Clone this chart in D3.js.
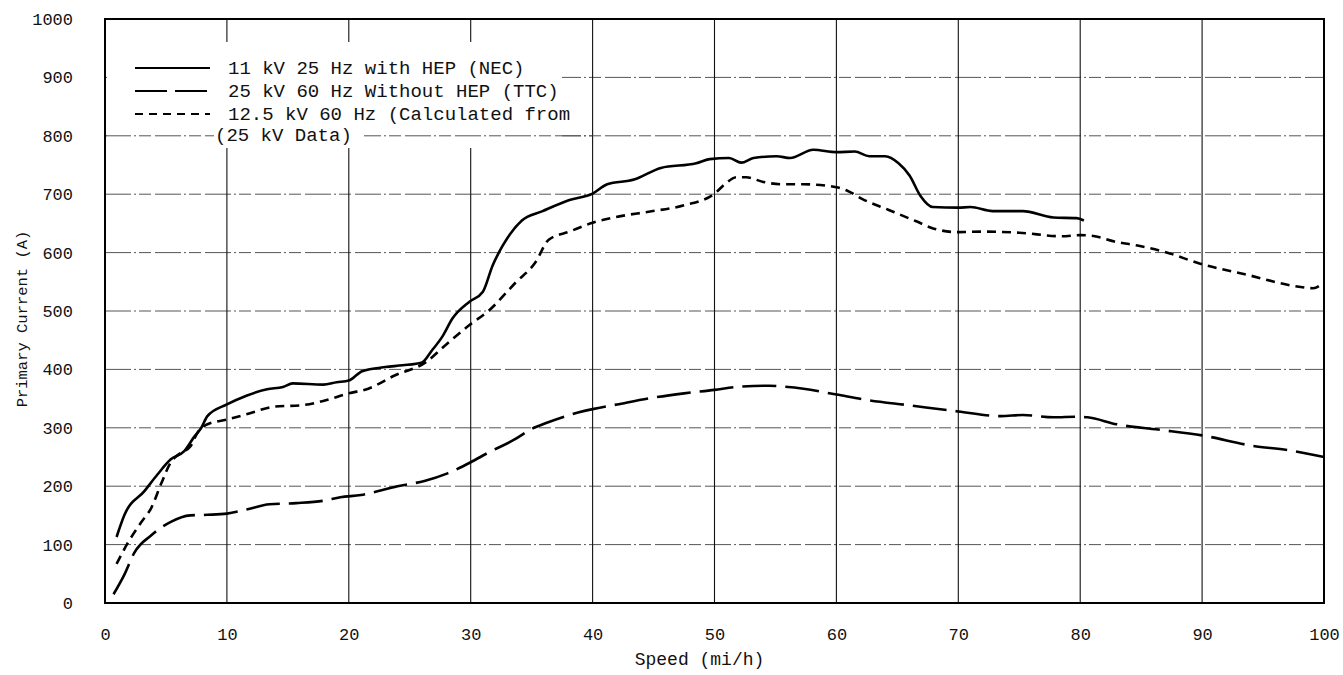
<!DOCTYPE html>
<html>
<head>
<meta charset="utf-8">
<script src="https://cdn.jsdelivr.net/npm/d3@7"></script>
<style>
  body { margin: 0; background: #fff; }
  text { font-family: "Liberation Mono", "DejaVu Sans Mono", monospace; fill: #111; }
</style>
</head>
<body>
<div id="chart"></div>
<script>
const W = 1343, H = 675;
const margin = { top: 19, right: 19, bottom: 72, left: 105 };

// 11 kV 25 Hz with HEP (NEC)
const necSpeed = [0.95,1.6,3.25,4.3,5.4,6.5,7.3,7.9,8.4,10,11.6,13.3,14.6,15.4,17.9,19,20,21.1,23,24.4,26,26.8,27.7,28.5,29.9,31,31.8,32.6,34.2,35.9,38.1,40,41.2,43.4,45.6,48.5,49.6,51.2,52.2,53.2,55.1,56.2,58.1,60,61.5,62.7,64,65.1,66,66.9,67.9,70,71,72.8,75.3,77.8,79.7,80.3];
const necCurrent = [113,151,192,220,246,260,284,300,320,340,355,366,370,376,374,378,381,397,404,407,412,432,457,487,516,533,578,611,655,671,690,701,717,725,745,753,760,762,754,762,765,762,776,772,773,765,765,753,732,697,678,677,678,671,671,660,659,655];

// 25 kV 60 Hz Without HEP (TTC)
const ttcSpeed = [0.7,1.6,2.4,3.8,5.4,7,8.4,10,11.6,13.5,15.7,17.9,19.3,21,24,26.2,28.1,30,31.4,33.6,35,36.3,38.8,40,42,44.8,47.5,50,51.8,54.5,55.4,57.3,60,62.7,65.8,70,73.5,75.3,77.8,79.7,80.6,83,86.4,90,94.2,97,100];
const ttcCurrent = [15,49,86,116,139,150,151,153,160,169,171,175,181,185,200,209,222,241,257,280,298,309,326,332,340,351,359,365,370,372,371,367,357,347,339,328,320,322,318,319,318,306,297,287,269,262,250];

// 12.5 kV 60 Hz (calculated from 25 kV data)
const calcSpeed = [0.95,1.9,3,3.8,4.6,5.4,6.2,7,7.6,8.4,10,11.9,13.8,16.3,17.9,20,21.6,23.8,26.3,27.9,29.9,31.5,33.7,35.3,36.4,38.1,40,42.2,44.6,47.5,50,50.9,51.8,52.6,54,55.6,57.3,60,60.9,62.1,64.3,66.5,68,70,71.9,75,78.5,80,81.2,82.8,84.7,86.8,90,93.5,97.8,99.1,100];
const calcCurrent = [67,104,139,163,204,241,257,268,292,306,314,325,336,339,346,359,367,390,412,441,476,501,549,583,622,636,651,662,670,681,701,718,729,729,721,717,717,712,706,692,673,654,641,635,636,634,628,630,628,619,612,602,580,563,542,539,549];

const xTicks = [0,10,20,30,40,50,60,70,80,90,100];
const yTicks = [0,100,200,300,400,500,600,700,800,900,1000];

const legendLabels = [
  "11 kV 25 Hz with HEP (NEC)",
  "25 kV 60 Hz Without HEP (TTC)",
  "12.5 kV 60 Hz (Calculated from"
];
const legendExtra = "(25 kV Data)";

const svg = d3.select("#chart").append("svg")
  .attr("width", W).attr("height", H);

const x = d3.scaleLinear().domain([0, 100]).range([margin.left, W - margin.right]);
const y = d3.scaleLinear().domain([0, 1000]).range([H - margin.bottom, margin.top]);

// horizontal grid (broken dash-dot look)
svg.append("g").selectAll("line")
  .data(yTicks.filter(d => d > 0 && d < 1000))
  .enter().append("line")
  .attr("x1", x(0)).attr("x2", x(100))
  .attr("y1", d => y(d)).attr("y2", d => y(d))
  .attr("stroke", "#555").attr("stroke-width", 1)
  .attr("stroke-dasharray", "26,3,2,3,12,4");

// vertical grid
svg.append("g").selectAll("line")
  .data(xTicks.filter(d => d > 0 && d < 100))
  .enter().append("line")
  .attr("x1", d => x(d)).attr("x2", d => x(d))
  .attr("y1", y(0)).attr("y2", y(1000))
  .attr("stroke", "#111").attr("stroke-width", 1.1);

// legend background covers the grid
svg.append("rect")
  .attr("x", x(0) + 2).attr("y", 42)
  .attr("width", 455).attr("height", 106)
  .attr("fill", "#fff");

// 800 gridline runs through the last legend row
svg.append("line")
  .attr("x1", x(0)).attr("x2", x(40))
  .attr("y1", y(800)).attr("y2", y(800))
  .attr("stroke", "#555").attr("stroke-width", 1)
  .attr("stroke-dasharray", "26,3,2,3,12,4");

// frame
svg.append("rect")
  .attr("x", x(0)).attr("y", y(1000))
  .attr("width", x(100) - x(0)).attr("height", y(0) - y(1000))
  .attr("fill", "none").attr("stroke", "#000").attr("stroke-width", 2);

// tick labels via d3 axes
const xAxis = d3.axisBottom(x).tickValues(xTicks).tickSize(0).tickPadding(25)
  .tickFormat(d3.format("d"));
svg.append("g")
  .attr("transform", `translate(0, ${y(0)})`)
  .call(xAxis)
  .call(g => g.select(".domain").remove())
  .call(g => g.selectAll("text").style("font-size", "17px").attr("fill", "#111"));

const yAxis = d3.axisLeft(y).tickValues(yTicks).tickSize(0).tickPadding(32)
  .tickFormat(d3.format("d"));
svg.append("g")
  .attr("transform", `translate(${x(0)}, 0)`)
  .call(yAxis)
  .call(g => g.select(".domain").remove())
  .call(g => g.selectAll("text").style("font-size", "17px").attr("fill", "#111"));

svg.append("text")
  .attr("x", (x(0) + x(100)) / 2 - 15).attr("y", 665)
  .attr("text-anchor", "middle")
  .style("font-size", "18px")
  .text("Speed (mi/h)");

svg.append("text")
  .attr("transform", `translate(27, ${(y(0) + y(1000)) / 2 + 8}) rotate(-90)`)
  .attr("text-anchor", "middle")
  .style("font-size", "15.5px")
  .text("Primary Current (A)");

// curves
const line = d3.line()
  .x(d => x(d[0]))
  .y(d => y(d[1]))
  .curve(d3.curveMonotoneX);

const series = [
  { speed: necSpeed, current: necCurrent, dash: null },
  { speed: ttcSpeed, current: ttcCurrent, dash: "34,9" },
  { speed: calcSpeed, current: calcCurrent, dash: "9,6" }
];

svg.append("g").selectAll("path")
  .data(series)
  .enter().append("path")
  .attr("d", s => line(s.speed.map((v, i) => [v, s.current[i]])))
  .attr("fill", "none")
  .attr("stroke", "#000")
  .attr("stroke-width", 2.6)
  .attr("stroke-dasharray", s => s.dash);

// legend
const legY = [68, 91, 114];
const leg = svg.append("g");
leg.selectAll("line")
  .data(series)
  .enter().append("line")
  .attr("x1", 135).attr("x2", 210)
  .attr("y1", (d, i) => legY[i]).attr("y2", (d, i) => legY[i])
  .attr("stroke", "#000").attr("stroke-width", 2.2)
  .attr("stroke-dasharray", (d, i) => i === 1 ? "32,8" : (i === 2 ? "8,6" : null));

leg.selectAll("text")
  .data(legendLabels)
  .enter().append("text")
  .attr("x", 228).attr("y", (d, i) => legY[i] + 6)
  .style("font-size", "19px")
  .text(d => d);

leg.append("rect")
  .attr("x", 214).attr("y", 124).attr("width", 150).attr("height", 22)
  .attr("fill", "#fff");
leg.append("text")
  .attr("x", 215).attr("y", 141)
  .style("font-size", "19px")
  .text(legendExtra);
</script>
</body>
</html>
